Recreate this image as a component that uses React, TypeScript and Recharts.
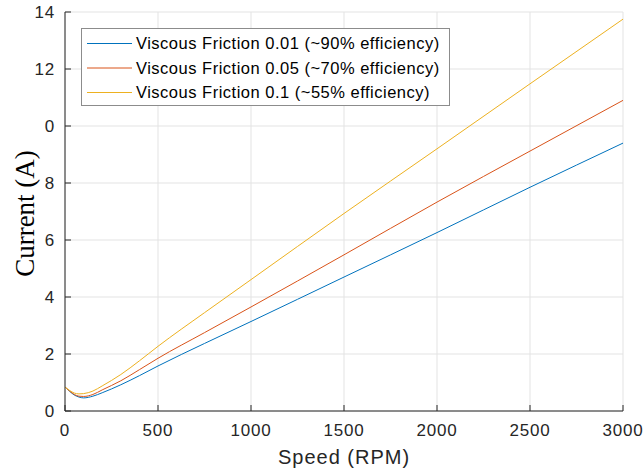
import React from 'react';
import { LineChart, Line, XAxis, YAxis, CartesianGrid } from 'recharts';

const speeds = [0, 25, 50, 75, 100, 150, 200, 300, 400, 500, 750, 1000, 1500, 2000, 2500, 3000];
const friction001 = [0.84, 0.69, 0.56, 0.49, 0.46, 0.52, 0.64, 0.92, 1.24, 1.58, 2.37, 3.14, 4.7, 6.26, 7.85, 9.4];
const friction005 = [0.84, 0.7, 0.58, 0.52, 0.51, 0.58, 0.74, 1.06, 1.45, 1.85, 2.75, 3.65, 5.48, 7.33, 9.12, 10.9];
const friction01 = [0.84, 0.72, 0.63, 0.6, 0.61, 0.7, 0.88, 1.28, 1.76, 2.27, 3.45, 4.61, 6.93, 9.2, 11.48, 13.75];

const xTicks = [0, 500, 1000, 1500, 2000, 2500, 3000];
const yTicks = [0, 2, 4, 6, 8, 10, 12, 14];
const yTickLabels = ['0', '2', '4', '6', '8', '0', '12', '14'];

const seriesNames = [
  'Viscous Friction 0.01 (~90% efficiency)',
  'Viscous Friction 0.05 (~70% efficiency)',
  'Viscous Friction 0.1 (~55% efficiency)',
];
const seriesColors = ['#0072BD', '#D95319', '#EDB120'];

const data = speeds.map((s, i) => ({
  rpm: s,
  a: friction001[i],
  b: friction005[i],
  c: friction01[i],
}));

const FONT = '"Liberation Sans", Arial, sans-serif';
const AX = '#262626';
const TICK_LEN = 6;

const LeftTick = (props: any) => {
  const { x, y, payload } = props;
  const idx = yTicks.indexOf(payload.value);
  const label = idx >= 0 ? yTickLabels[idx] : String(payload.value);
  const ax = x + 10;
  return (
    <g>
      <line x1={ax} y1={y} x2={ax + TICK_LEN} y2={y} stroke={AX} strokeWidth={1} />
      <text x={x} y={y} dy={6} textAnchor="end" fill={AX} fontFamily={FONT} fontSize={17} letterSpacing={0.8}>
        {label}
      </text>
    </g>
  );
};

const BottomTick = (props: any) => {
  const { x, y, payload } = props;
  const ay = y - 12;
  return (
    <g>
      <line x1={x} y1={ay} x2={x} y2={ay - TICK_LEN} stroke={AX} strokeWidth={1} />
      <text x={x} y={y} dy={12.5} textAnchor="middle" fill={AX} fontFamily={FONT} fontSize={17} letterSpacing={0.8}>
        {payload.value}
      </text>
    </g>
  );
};

const RightTick = (props: any) => {
  const { x, y } = props;
  return <line x1={x} y1={y} x2={x - TICK_LEN} y2={y} stroke={AX} strokeWidth={1} />;
};

const TopTick = (props: any) => {
  const { x, y } = props;
  return <line x1={x} y1={y} x2={x} y2={y + TICK_LEN} stroke={AX} strokeWidth={1} />;
};

const LegendBox = () => (
  <div
    style={{
      position: 'absolute',
      left: 81,
      top: 28,
      width: 369,
      height: 78,
      border: '1px solid #8c8c8c',
      background: '#ffffff',
      boxSizing: 'border-box',
    }}
  >
    <svg width={367} height={76} style={{ position: 'absolute', left: 0, top: 0 }}>
      {seriesNames.map((name, i) => (
        <g key={name}>
          <line x1={5} x2={50} y1={14.5 + i * 24.5} y2={14.5 + i * 24.5} stroke={seriesColors[i]} strokeWidth={1} />
          <text x={54} y={14.5 + i * 24.5} dy={5.6} fill="#000" fontFamily={FONT} fontSize={16.5} letterSpacing={0.5}>
            {name}
          </text>
        </g>
      ))}
    </svg>
  </div>
);

export default function App() {
  return (
    <div style={{ position: 'absolute', left: 0, top: 0, width: 644, height: 469, background: '#fff' }}>
      <LineChart width={644} height={469} data={data} margin={{ top: 12, right: 21, left: 0, bottom: 0 }}>
        <CartesianGrid stroke="#e3e3e3" strokeWidth={1} />
        <XAxis
          dataKey="rpm"
          type="number"
          domain={[0, 3000]}
          ticks={xTicks}
          height={58}
          stroke={AX}
          tickLine={false}
          tickSize={0}
          tickMargin={12}
          tick={<BottomTick />}
          interval={0}
          label={(p: any) => {
            const vb = p.viewBox;
            return (
              <text
                x={vb.x + vb.width / 2}
                y={vb.y + 53}
                textAnchor="middle"
                fill={AX}
                fontFamily={FONT}
                fontSize={20}
                letterSpacing={1}
              >
                Speed (RPM)
              </text>
            );
          }}
        />
        <XAxis
          xAxisId="t"
          orientation="top"
          dataKey="rpm"
          type="number"
          domain={[0, 3000]}
          ticks={xTicks}
          height={0}
          stroke={AX}
          tickLine={false}
          tickSize={0}
          tickMargin={0}
          tick={<TopTick />}
          interval={0}
        />
        <YAxis
          type="number"
          domain={[0, 14]}
          ticks={yTicks}
          width={65}
          stroke={AX}
          tickLine={false}
          tickSize={0}
          tickMargin={10}
          tick={<LeftTick />}
          interval={0}
          label={(p: any) => {
            const vb = p.viewBox;
            const cx = vb.x + 34;
            const cy = vb.y + vb.height / 2 + 2;
            return (
              <text
                x={cx}
                y={cy}
                transform={`rotate(-90 ${cx} ${cy})`}
                textAnchor="middle"
                fill="#000"
                fontFamily='"Liberation Serif", "Times New Roman", serif'
                fontSize={27}
              >
                Current (A)
              </text>
            );
          }}
        />
        <YAxis
          yAxisId="r"
          orientation="right"
          type="number"
          domain={[0, 14]}
          ticks={yTicks}
          width={0}
          stroke={AX}
          tickLine={false}
          tickSize={0}
          tickMargin={0}
          tick={<RightTick />}
          interval={0}
        />
        <Line
          xAxisId="t"
          yAxisId="r"
          dataKey="a"
          stroke="none"
          dot={false}
          legendType="none"
          isAnimationActive={false}
        />
        <Line type="monotone" dataKey="a" name={seriesNames[0]} stroke={seriesColors[0]} strokeWidth={1} dot={false} isAnimationActive={false} />
        <Line type="monotone" dataKey="b" name={seriesNames[1]} stroke={seriesColors[1]} strokeWidth={1} dot={false} isAnimationActive={false} />
        <Line type="monotone" dataKey="c" name={seriesNames[2]} stroke={seriesColors[2]} strokeWidth={1} dot={false} isAnimationActive={false} />
      </LineChart>
      <LegendBox />
    </div>
  );
}
